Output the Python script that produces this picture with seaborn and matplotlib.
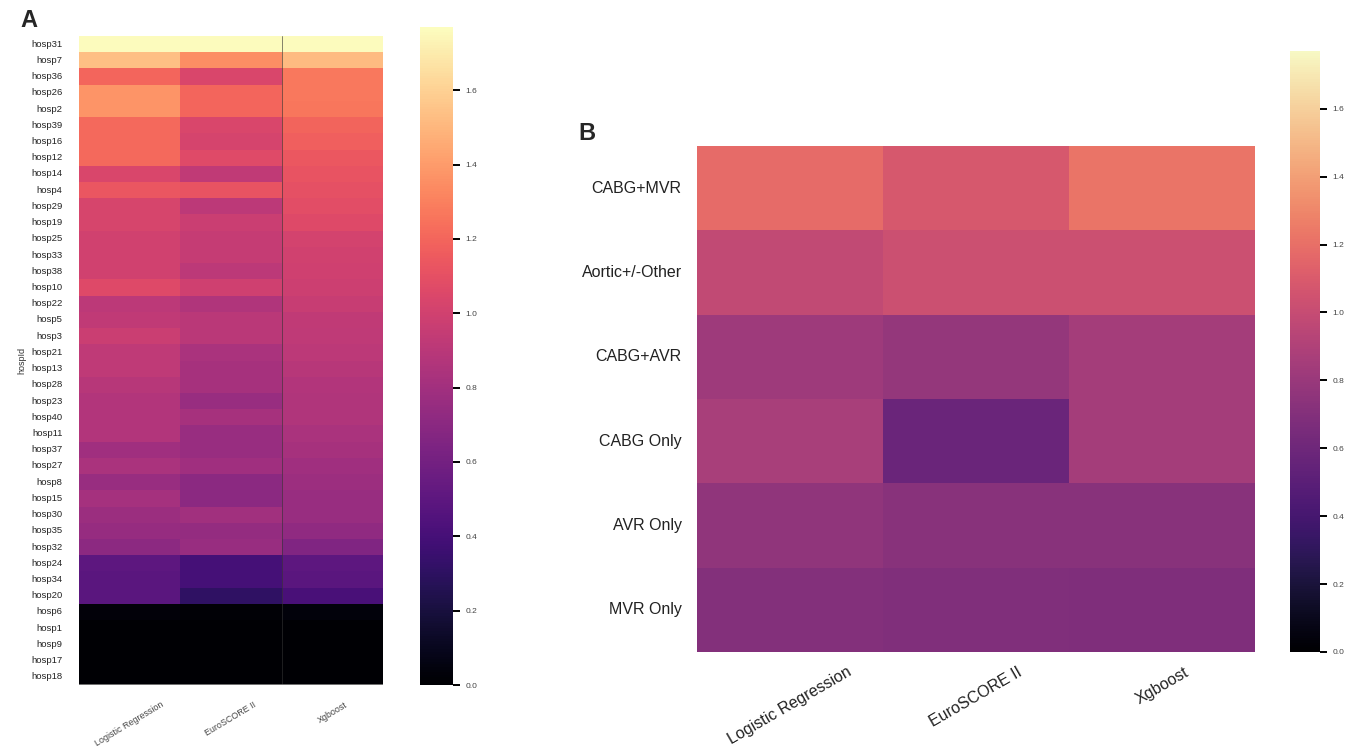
import numpy as np
import pandas as pd
import matplotlib
matplotlib.use("Agg")
import matplotlib.pyplot as plt
from matplotlib.colors import ListedColormap
import seaborn as sns

sns.set_style("white")
plt.rcParams["font.family"] = ["Liberation Sans", "DejaVu Sans"]

models = ["Logistic Regression", "EuroSCORE II", "Xgboost"]

# Panel A: observed/expected ratio per hospital
hospitals = ["hosp31", "hosp7", "hosp36", "hosp26", "hosp2", "hosp39", "hosp16", "hosp12",
             "hosp14", "hosp4", "hosp29", "hosp19", "hosp25", "hosp33", "hosp38", "hosp10",
             "hosp22", "hosp5", "hosp3", "hosp21", "hosp13", "hosp28", "hosp23", "hosp40",
             "hosp11", "hosp37", "hosp27", "hosp8", "hosp15", "hosp30", "hosp35", "hosp32",
             "hosp24", "hosp34", "hosp20", "hosp6", "hosp1", "hosp9", "hosp17", "hosp18"]
hosp_lr = [1.76, 1.53, 1.20, 1.37, 1.37, 1.21, 1.21, 1.21, 1.04, 1.13, 1.03, 1.03, 1.00, 1.00,
           1.00, 1.06, 0.91, 0.93, 0.97, 0.92, 0.92, 0.89, 0.87, 0.87, 0.87, 0.79, 0.83, 0.76,
           0.81, 0.77, 0.75, 0.71, 0.50, 0.49, 0.49, 0.03, 0.00, 0.00, 0.00, 0.00]
hosp_euro = [1.76, 1.35, 1.04, 1.20, 1.20, 1.04, 1.02, 1.07, 0.93, 1.12, 0.91, 0.97, 0.95, 0.95,
             0.91, 0.99, 0.86, 0.90, 0.90, 0.83, 0.82, 0.82, 0.76, 0.82, 0.76, 0.76, 0.79, 0.70,
             0.70, 0.80, 0.74, 0.76, 0.40, 0.40, 0.31, 0.02, 0.00, 0.00, 0.00, 0.00]
hosp_xgb = [1.76, 1.52, 1.27, 1.27, 1.26, 1.19, 1.17, 1.14, 1.12, 1.10, 1.08, 1.06, 1.01, 1.00,
            0.99, 0.98, 0.96, 0.93, 0.92, 0.91, 0.89, 0.87, 0.86, 0.86, 0.83, 0.82, 0.79, 0.78,
            0.76, 0.76, 0.72, 0.65, 0.50, 0.49, 0.41, 0.04, 0.00, 0.00, 0.00, 0.00]

# Panel B: observed/expected ratio per procedure group
procedures = ["CABG+MVR", "Aortic+/-Other", "CABG+AVR", "CABG Only", "AVR Only", "MVR Only"]
proc_lr = [1.18, 0.98, 0.82, 0.87, 0.76, 0.70]
proc_euro = [1.08, 1.03, 0.78, 0.58, 0.72, 0.69]
proc_xgb = [1.22, 1.03, 0.85, 0.85, 0.72, 0.68]

df_a = pd.DataFrame({models[0]: hosp_lr, models[1]: hosp_euro, models[2]: hosp_xgb},
                    index=pd.Index(hospitals, name="hospId"))
df_b = pd.DataFrame({models[0]: proc_lr, models[1]: proc_euro, models[2]: proc_xgb},
                    index=procedures)

W, H = 1359, 750
fig = plt.figure(figsize=(W / 100, H / 100), dpi=100)


def rect(x0, y0, x1, y1):
    return [x0 / W, 1 - y1 / H, (x1 - x0) / W, (y1 - y0) / H]


VMAX = 1.77

# a slightly muted magma for the procedure panel
magma = plt.get_cmap("magma")
muted_magma = ListedColormap([sns.desaturate(magma(i), 0.85) for i in np.linspace(0, 1, 256)])

ax_a = fig.add_axes(rect(79, 36, 383, 685))
cax_a = fig.add_axes(rect(420, 27, 453, 685))
ax_b = fig.add_axes(rect(697, 146, 1255, 652))
cax_b = fig.add_axes(rect(1290, 51, 1320, 652))

sns.heatmap(df_a, ax=ax_a, cbar_ax=cax_a, cmap="magma", vmin=0, vmax=VMAX)
sns.heatmap(df_b, ax=ax_b, cbar_ax=cax_b, cmap=muted_magma, vmin=0, vmax=VMAX)

# Panel A styling
ax_a.axvline(2, color="#333333", lw=0.6, alpha=0.7)
ax_a.axhline(len(hospitals), color="#888888", lw=1.2)
ax_a.tick_params(axis="both", length=0)
ax_a.tick_params(axis="y", labelsize=6.8, pad=12, labelcolor="#222222")
ax_a.tick_params(axis="x", labelsize=6.4, pad=11, labelcolor="#444444")
plt.setp(ax_a.get_yticklabels(), rotation=0)
plt.setp(ax_a.get_xticklabels(), rotation=31, ha="center")
ax_a.set_ylabel("hospId", fontsize=6.5, color="#333333", labelpad=3)
ax_a.set_xlabel("")

# Panel B styling
ax_b.tick_params(axis="both", length=0)
ax_b.tick_params(axis="y", labelsize=11.5, pad=11, labelcolor="#222222")
ax_b.tick_params(axis="x", labelsize=11.5, pad=9, labelcolor="#222222")
plt.setp(ax_b.get_yticklabels(), rotation=0)
plt.setp(ax_b.get_xticklabels(), rotation=30, ha="center")

ticks = [0.0, 0.2, 0.4, 0.6, 0.8, 1.0, 1.2, 1.4, 1.6]
for cax in (cax_a, cax_b):
    cax.set_yticks(ticks)
    cax.set_yticklabels([f"{t:.1f}" for t in ticks])
    cax.tick_params(axis="y", length=5, width=1.4, color="black", labelsize=6,
                    labelcolor="#444444", pad=4)

fig.text(20 / W, 1 - 27 / H, "A", fontsize=17, fontweight="bold", ha="left", va="baseline")
fig.text(578 / W, 1 - 140 / H, "B", fontsize=17, fontweight="bold", ha="left", va="baseline")

fig.savefig("out.png", dpi=100, facecolor="white")
